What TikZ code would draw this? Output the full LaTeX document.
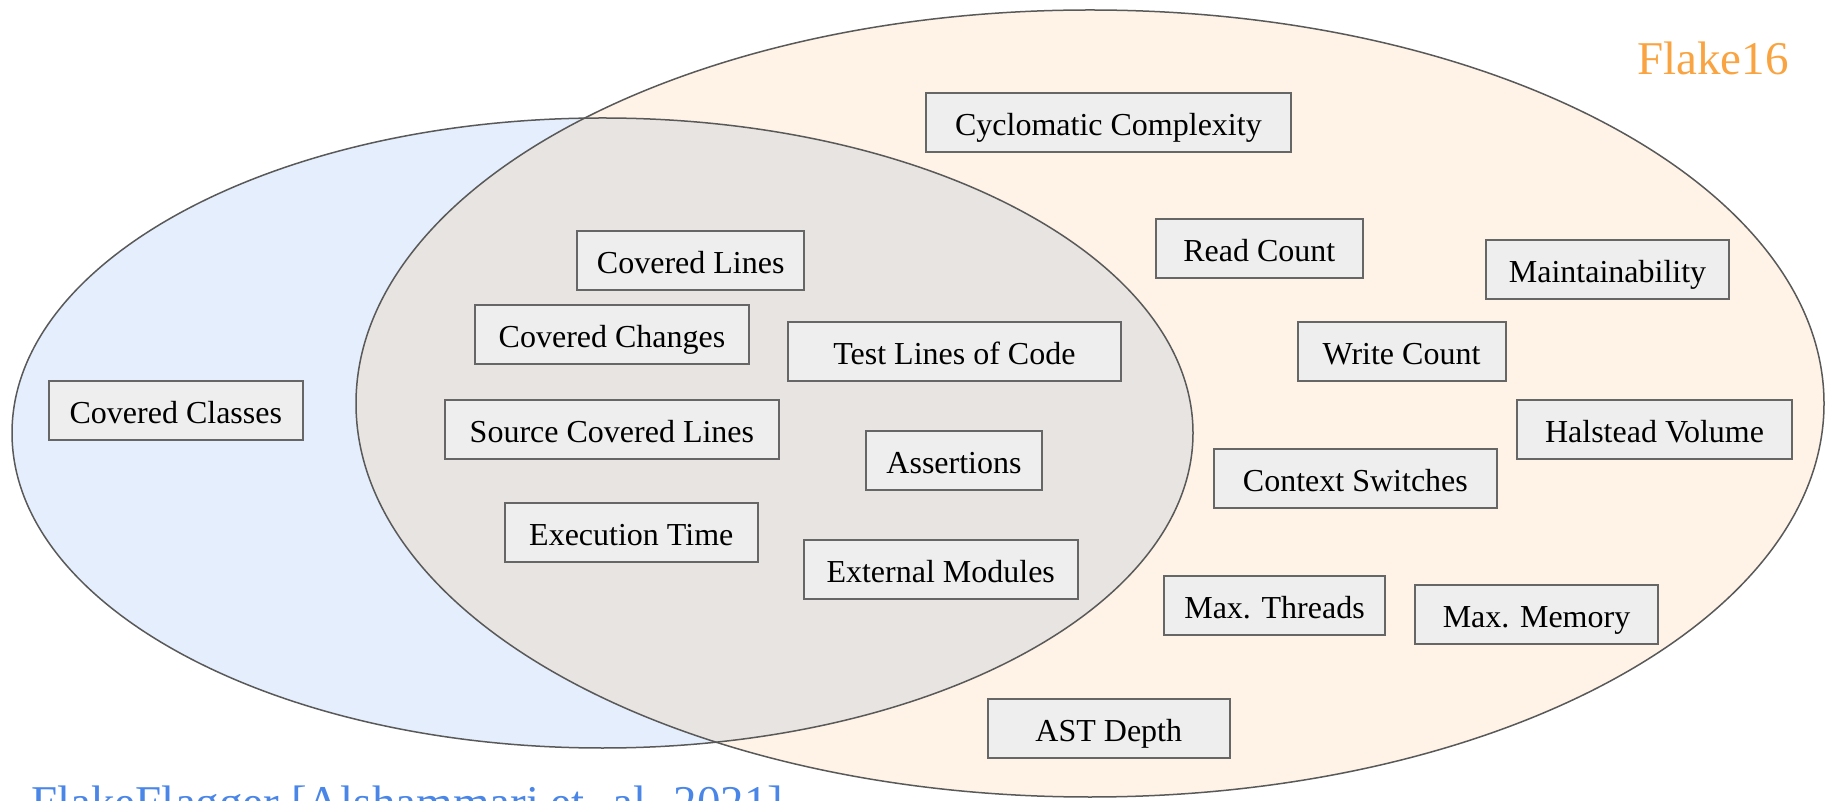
\documentclass[tikz,border=0pt]{standalone}
\usepackage{fontspec}
\setmainfont{Liberation Serif}
\definecolor{bluefill}{HTML}{E4EEFC}
\definecolor{orangefill}{HTML}{FEF3E6}
\definecolor{greyfill}{HTML}{E8E4E1}
\definecolor{boxfill}{HTML}{EEEEEE}
\definecolor{boxline}{HTML}{666666}
\definecolor{ringline}{HTML}{595959}
\definecolor{flakeorange}{HTML}{F9A441}
\definecolor{flakeblue}{HTML}{4A86E8}
\begin{document}
\begin{tikzpicture}[x=0.5pt,y=-0.5pt,
  metric/.style={draw=boxline, line width=1pt, fill=boxfill, inner sep=0pt,
    text height=14.8pt, text depth=2pt,
    minimum height=29.5pt, font=\fontsize{16}{19}\selectfont, text=black},
  ring/.style={draw=ringline, line width=0.75pt},
  setlabel/.style={anchor=base west, inner sep=0pt, font=\fontsize{23.5}{28}\selectfont}]
\useasboundingbox (0,0) rectangle (1825,801);
\clip (0,0) rectangle (1825,801);
% sets
\fill[orangefill] (1090,403.5) ellipse [x radius=734, y radius=393.5];
\fill[bluefill] (602.5,433) ellipse [x radius=590.5, y radius=315];
\begin{scope}
  \clip (602.5,433) ellipse [x radius=590.5, y radius=315];
  \fill[greyfill] (1090,403.5) ellipse [x radius=734, y radius=393.5];
\end{scope}
\draw[ring] (1090,403.5) ellipse [x radius=734, y radius=393.5];
\draw[ring] (602.5,433) ellipse [x radius=590.5, y radius=315];
% set labels
\node[setlabel, text=flakeorange] (flake16) at (1637,74.5) {Flake16};
\node[setlabel, text=flakeblue] (flakeflagger) at (31,818) {FlakeFlagger [Alshammari et. al. 2021]};
% metrics
\node[metric, minimum width=127.2pt] (cclasses) at (175.8,410.5) {Covered Classes};
\node[metric, minimum width=113.7pt] (clines) at (690.7,260.5) {Covered Lines};
\node[metric, minimum width=137pt] (cchanges) at (612,335) {Covered Changes};
\node[metric, minimum width=166.9pt] (sclines) at (611.9,430) {Source Covered Lines};
\node[metric, minimum width=126.8pt] (exectime) at (631.3,532.3) {Execution Time};
\node[metric, minimum width=166.6pt] (tloc) at (954.4,351.8) {Test Lines of Code};
\node[metric, minimum width=88pt] (assert) at (954,460.8) {Assertions};
\node[metric, minimum width=137pt] (extmod) at (940.7,569.5) {External Modules};
\node[metric, minimum width=182.6pt] (cyclo) at (1108.4,122.5) {Cyclomatic Complexity};
\node[metric, minimum width=103.7pt] (readc) at (1259.3,248.8) {Read Count};
\node[metric, minimum width=121.5pt] (maint) at (1607.5,269.5) {Maintainability};
\node[metric, minimum width=104pt] (writec) at (1401.5,351.8) {Write Count};
\node[metric, minimum width=137.5pt] (halstead) at (1654.5,430) {Halstead Volume};
\node[metric, minimum width=141.7pt] (ctxsw) at (1355.4,478.6) {Context Switches};
\node[metric, minimum width=110.5pt] (maxthr) at (1274.5,605.5) {Max. Threads};
\node[metric, minimum width=121.5pt] (maxmem) at (1536.5,614.3) {Max. Memory};
\node[metric, minimum width=121.3pt] (ast) at (1108.8,728.4) {AST Depth};
\end{tikzpicture}
\end{document}
